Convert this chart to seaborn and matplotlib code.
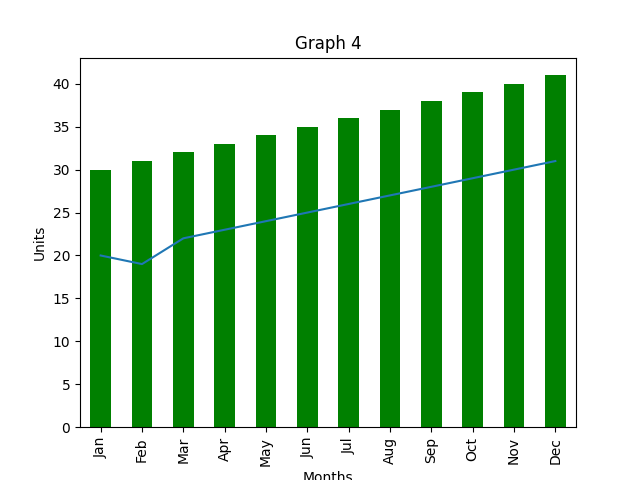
import matplotlib
matplotlib.use("Agg")
import matplotlib.pyplot as plt
import seaborn as sns
import pandas as pd

months = ["Jan", "Feb", "Mar", "Apr", "May", "Jun", "Jul", "Aug", "Sep", "Oct", "Nov", "Dec"]
bar_values = [30, 31, 32, 33, 34, 35, 36, 37, 38, 39, 40, 41]
line_values = [20, 19, 22, 23, 24, 25, 26, 27, 28, 29, 30, 31]

df = pd.DataFrame({"Months": months, "bars": bar_values, "line": line_values})

fig, ax = plt.subplots(figsize=(6.4, 4.8), dpi=100)
sns.barplot(data=df, x="Months", y="bars", color="green", saturation=1, width=0.5, ax=ax)
sns.lineplot(x=range(len(months)), y=line_values, color="#1f77b4", ax=ax)
ax.set_xlim(-0.5, len(months) - 0.5)
ax.set_xticks(range(len(months)))
ax.set_xticklabels(months, rotation=90)
ax.set_title("Graph 4")
ax.set_xlabel("Months")
ax.set_ylabel("Units")
fig.savefig("out.png", dpi=100)
